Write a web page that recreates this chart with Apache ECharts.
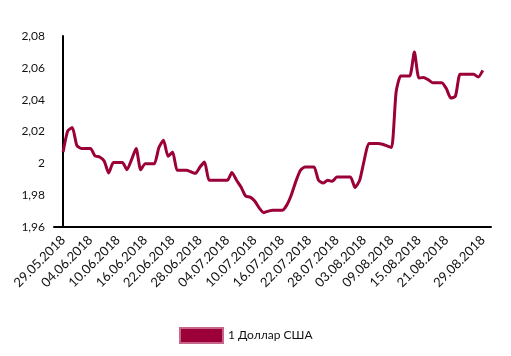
<!DOCTYPE html>
<html><head><meta charset="utf-8">
<script src="https://cdn.jsdelivr.net/npm/echarts@6/dist/echarts.min.js"></script>
<style>html,body{margin:0;padding:0;background:#fff}#c{width:511px;height:356px}</style>
</head><body><div id="c"></div>
<script>
// Daily dates 29.05.2018 .. 29.08.2018
const dates = [];
(function(){const d=new Date(Date.UTC(2018,4,29));const end=Date.UTC(2018,7,29);
while(d.getTime()<=end){const dd=String(d.getUTCDate()).padStart(2,'0');const mm=String(d.getUTCMonth()+1).padStart(2,'0');dates.push(dd+'.'+mm+'.'+d.getUTCFullYear());d.setUTCDate(d.getUTCDate()+1);}})();
const usdRate = [
2.0071,2.0203,2.0225,2.0113,2.0093,2.0093,2.0093,2.0046,2.0040,2.0015,
1.9939,2.0005,2.0005,2.0005,1.9960,2.0023,2.0093,1.9960,1.9998,1.9998,
1.9998,2.0099,2.0145,2.0044,2.0071,1.9956,1.9956,1.9956,1.9947,1.9937,
1.9977,2.0008,1.9893,1.9893,1.9893,1.9893,1.9893,1.9942,1.9895,1.9851,
1.9795,1.9788,1.9763,1.9719,1.9690,1.9700,1.9705,1.9705,1.9705,1.9736,
1.9799,1.9885,1.9955,1.9977,1.9977,1.9977,1.9893,1.9876,1.9893,1.9887,
1.9914,1.9914,1.9914,1.9914,1.9848,1.9893,2.0019,2.0124,2.0124,2.0124,
2.0120,2.0110,2.0099,2.0448,2.0549,2.0549,2.0549,2.0699,2.0536,2.0539,
2.0526,2.0507,2.0507,2.0507,2.0470,2.0410,2.0421,2.0559,2.0559,2.0559,
2.0559,2.0542,2.0584];
const labelDates = ['29.05.2018','04.06.2018','10.06.2018','16.06.2018','22.06.2018','28.06.2018','04.07.2018','10.07.2018','16.07.2018','22.07.2018','28.07.2018','03.08.2018','09.08.2018','15.08.2018','21.08.2018','29.08.2018'];
const seriesName = '1 Доллар США';

const chart = echarts.init(document.getElementById('c'));
chart.setOption({
  animation:false,
  textStyle:{fontFamily:'Lato'},
  grid:{left:54,right:20,top:36,bottom:129,containLabel:false},
  legend:{data:[{name:seriesName,icon:'rect'}],left:179,top:327,padding:0,itemWidth:43,itemHeight:15,itemGap:10,
    textStyle:{fontFamily:'Lato',fontSize:12,color:'#111'}},
  xAxis:{type:'value',min:-2,max:93.8,interval:1,
    axisLine:{show:true,lineStyle:{color:'#000',width:2}},
    axisTick:{show:false},splitLine:{show:false},
    axisLabel:{rotate:45,margin:11,fontSize:13,color:'#111',fontFamily:'Lato',showMinLabel:true,showMaxLabel:false,
      formatter:function(v){const i=Math.round(v);if(Math.abs(v-i)>1e-6)return '';const s=dates[i];return (s&&labelDates.indexOf(s)>=0)?s:'';}}
  },
  yAxis:{type:'value',min:1.96,max:2.08,interval:0.02,
    axisLine:{show:true,lineStyle:{color:'#000',width:2}},
    axisTick:{show:false},splitLine:{show:false},
    axisLabel:{margin:9,fontSize:12,color:'#111',fontFamily:'Lato',
      formatter:function(v){return String(parseFloat(v.toFixed(2))).replace('.',',');}}
  },
  series:[{name:seriesName,type:'line',smooth:0.2,showSymbol:false,
    data:usdRate.map((v,i)=>[i,v]),
    lineStyle:{color:'#9b0039',width:3},
    itemStyle:{color:'#9b0039',borderColor:'#c8668a',borderWidth:1}}]
});
</script></body></html>
